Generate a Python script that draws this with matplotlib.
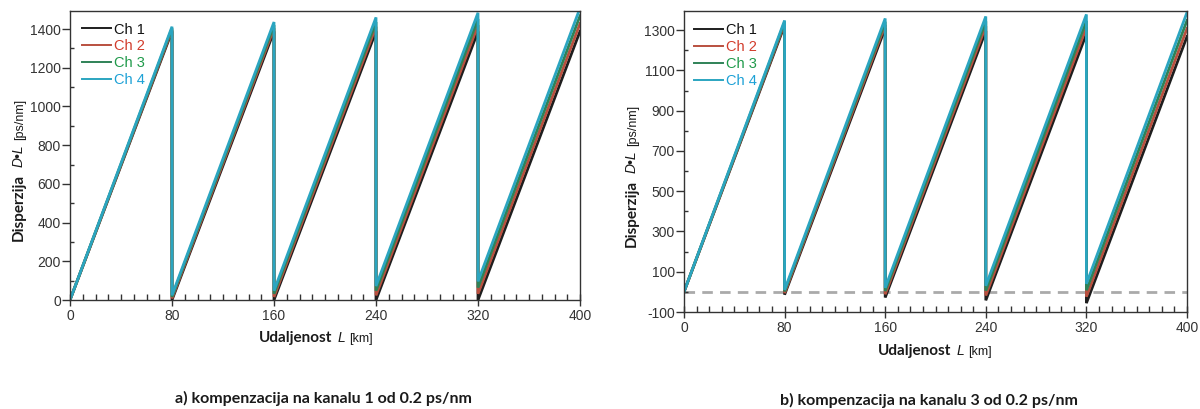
import matplotlib
matplotlib.use("Agg")
import matplotlib.pyplot as plt
from matplotlib.ticker import MultipleLocator

# ---------------- data ----------------
dist_km = [0, 80, 80, 160, 160, 240, 240, 320, 320, 400]
channels = ["Ch 1", "Ch 2", "Ch 3", "Ch 4"]

# a) compensation on channel 1
a_ch1 = [0, 1388, 0, 1388, 0, 1388, 0, 1388, 0, 1388]
a_ch2 = [0, 1396, 8, 1404, 16, 1412, 24, 1420, 32, 1428]
a_ch3 = [0, 1404, 16, 1420, 32, 1436, 48, 1452, 64, 1468]
a_ch4 = [0, 1412, 24, 1436, 48, 1460, 72, 1484, 96, 1508]

# b) compensation on channel 3
b_ch1 = [0, 1324, -14, 1310, -28, 1296, -42, 1282, -56, 1268]
b_ch2 = [0, 1332, -6, 1326, -12, 1320, -18, 1314, -24, 1308]
b_ch3 = [0, 1340, 2, 1342, 4, 1344, 6, 1346, 8, 1348]
b_ch4 = [0, 1348, 10, 1358, 20, 1368, 30, 1378, 40, 1388]

x_major = [0, 80, 160, 240, 320, 400]
a_yticks = [0, 200, 400, 600, 800, 1000, 1200, 1400]
b_yticks = [-100, 100, 300, 500, 700, 900, 1100, 1300]
ref_level = 0

captions = ["a) kompenzacija na kanalu 1 od 0.2 ps/nm",
            "b) kompenzacija na kanalu 3 od 0.2 ps/nm"]

# ---------------- style ----------------
line_colors = ["#1e1e1e", "#b9503f", "#2f8257", "#2ba5c0"]
text_colors = ["#111111", "#d23c2c", "#1f9a4a", "#1da1d6"]
W, H = 1200, 409
plt.rcParams["font.family"] = ["Liberation Sans", "DejaVu Sans"]
plt.rcParams["axes.unicode_minus"] = False

fig = plt.figure(figsize=(W / 100, H / 100), dpi=100)


def axes_px(x0, x1, ytop, ybot):
    return fig.add_axes([x0 / W, 1 - ybot / H, (x1 - x0) / W, (ybot - ytop) / H])


axA = axes_px(70, 580, 11, 300)
axB = axes_px(684, 1187, 11, 312)


def style_axes(ax, yticks, ylim):
    ax.set_xlim(0, 400)
    ax.set_ylim(*ylim)
    ax.set_xticks(x_major)
    ax.set_yticks(yticks)
    ax.xaxis.set_minor_locator(MultipleLocator(10))
    ax.yaxis.set_minor_locator(MultipleLocator(100))
    ax.tick_params(axis="x", which="major", direction="inout", length=9,
                   width=1, color="#333333", labelsize=10, labelcolor="#333333", pad=2)
    ax.tick_params(axis="x", which="minor", direction="in", length=4,
                   width=1, color="#333333")
    ax.tick_params(axis="y", which="major", direction="out", length=5.5,
                   width=1, color="#333333", labelsize=10, labelcolor="#333333", pad=1)
    ax.tick_params(axis="y", which="minor", direction="in", length=3,
                   width=1, color="#333333")
    for s in ax.spines.values():
        s.set_color("#333333")
        s.set_linewidth(1)


def draw(ax, series):
    for name, ys, c in zip(channels, series, line_colors):
        ax.plot(dist_km, ys, color=c, lw=2.0, label=name, solid_joinstyle="miter")


draw(axA, [a_ch1, a_ch2, a_ch3, a_ch4])
draw(axB, [b_ch1, b_ch2, b_ch3, b_ch4])
axB.axhline(ref_level, color="#aaaaaa", lw=2, dashes=(3.8, 2.6), zorder=0.5)

style_axes(axA, a_yticks, (0, 1493))
style_axes(axB, b_yticks, (-100, 1395))

for ax, anchor in [(axA, (0.024, 0.96)), (axB, (0.02, 0.96))]:
    leg = ax.legend(loc="upper left", bbox_to_anchor=anchor, frameon=False,
                    fontsize=10.5, handlelength=2.0, handletextpad=0.2,
                    labelspacing=0.2, borderpad=0, borderaxespad=0)
    for t, c in zip(leg.get_texts(), text_colors):
        t.set_color(c)
    for h in leg.get_lines():
        h.set_linewidth(1.4)

# ---------------- mixed-font labels ----------------
fig.canvas.draw()
renderer = fig.canvas.get_renderer()

bold = dict(family=["Lato", "DejaVu Sans"], fontweight="bold", fontsize=11, color="#1a1a1a")
ital = dict(family=["Liberation Sans"], style="italic", fontsize=10, color="#1a1a1a")
small = dict(family=["Liberation Sans"], fontsize=9, color="#1a1a1a")

ylabel_parts = [("Disperzija", bold, 7), ("D\u2022L", ital, 4), ("[ps/nm]", small, 0)]
xlabel_parts = [("Udaljenost", bold, 5), ("L", ital, 4), ("[km]", small, 0)]


def vlabel(x, y, parts):
    for s, props, gap in parts:
        t = fig.text(x / W, 1 - y / H, s, rotation=90, rotation_mode="anchor",
                     ha="left", va="baseline", **props)
        bb = t.get_window_extent(renderer)
        y -= bb.height + gap


def hlabel(x, y, parts):
    for s, props, gap in parts:
        t = fig.text(x / W, 1 - y / H, s, ha="left", va="baseline", **props)
        bb = t.get_window_extent(renderer)
        x += bb.width + gap


vlabel(23, 241, ylabel_parts)
vlabel(636, 247, ylabel_parts)
hlabel(259, 342, xlabel_parts)
hlabel(878, 355, xlabel_parts)

cap_props = dict(family=["Lato", "DejaVu Sans"], fontweight="bold", fontsize=11.5,
                 color="#1a1a1a", ha="center", va="baseline")
fig.text(323 / W, 1 - 403 / H, captions[0], **cap_props)
fig.text(929 / W, 1 - 405 / H, captions[1], **cap_props)

fig.savefig("out.png", dpi=100)
